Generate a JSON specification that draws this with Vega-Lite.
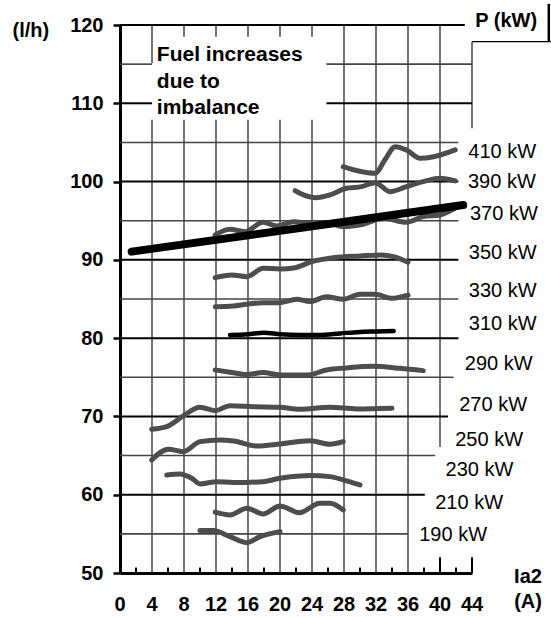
{
  "$schema": "https://vega.github.io/schema/vega-lite/v6.json",
  "width": 352,
  "height": 548,
  "autosize": {"type": "none"},
  "padding": {"left": 120, "top": 25, "right": 79, "bottom": 44},
  "config": {
    "font": "Liberation Sans",
    "view": {"stroke": null},
    "axis": {"grid": false, "labelOverlap": false, "labelFlush": false, "labelBound": false}
  },
  "datasets": {
    "hgrid": [
      {"y": 120, "x": 0, "x2": 43.1, "kind": "major"},
      {"y": 115, "x": 0, "x2": 4, "kind": "minor"},
      {"y": 115, "x": 25.8, "x2": 44, "kind": "minor"},
      {"y": 110, "x": 0, "x2": 4, "kind": "major"},
      {"y": 110, "x": 25.8, "x2": 44, "kind": "major"},
      {"y": 105, "x": 0, "x2": 42.3, "kind": "minor"},
      {"y": 100, "x": 0, "x2": 42.3, "kind": "major"},
      {"y": 95, "x": 0, "x2": 42.3, "kind": "minor"},
      {"y": 90, "x": 0, "x2": 42.3, "kind": "major"},
      {"y": 85, "x": 0, "x2": 42.3, "kind": "minor"},
      {"y": 80, "x": 0, "x2": 42.3, "kind": "major"},
      {"y": 75, "x": 0, "x2": 41.7, "kind": "minor"},
      {"y": 70, "x": 0, "x2": 41, "kind": "major"},
      {"y": 65, "x": 0, "x2": 39.4, "kind": "minor"},
      {"y": 60, "x": 0, "x2": 38.1, "kind": "major"},
      {"y": 55, "x": 0, "x2": 36, "kind": "minor"},
      {"y": 117.87, "x": 44, "x2": 53.9, "kind": "box"}
    ],
    "vgrid": [
      {"x": 4, "y": 50, "y2": 107.9, "kind": "grid"}, {"x": 4, "y": 115.1, "y2": 120, "kind": "grid"},
      {"x": 8, "y": 50, "y2": 107.9, "kind": "grid"}, {"x": 8, "y": 118.5, "y2": 120, "kind": "grid"},
      {"x": 12, "y": 50, "y2": 107.9, "kind": "grid"}, {"x": 12, "y": 118.5, "y2": 120, "kind": "grid"},
      {"x": 16, "y": 50, "y2": 107.9, "kind": "grid"}, {"x": 16, "y": 118.5, "y2": 120, "kind": "grid"},
      {"x": 20, "y": 50, "y2": 107.9, "kind": "grid"}, {"x": 20, "y": 118.5, "y2": 120, "kind": "grid"},
      {"x": 24, "y": 50, "y2": 107.9, "kind": "grid"}, {"x": 24, "y": 118.5, "y2": 120, "kind": "grid"},
      {"x": 28, "y": 50, "y2": 120, "kind": "grid"},
      {"x": 32, "y": 50, "y2": 120, "kind": "grid"},
      {"x": 36, "y": 50, "y2": 120, "kind": "grid"},
      {"x": 40, "y": 66.1, "y2": 120, "kind": "grid"}, {"x": 40, "y": 50, "y2": 52, "kind": "tick"},
      {"x": 44, "y": 106.8, "y2": 117.87, "kind": "grid"}, {"x": 44, "y": 50, "y2": 52, "kind": "tick"},
      {"x": 2, "y": 50, "y2": 50.7, "kind": "tick"}, {"x": 6, "y": 50, "y2": 50.7, "kind": "tick"},
      {"x": 10, "y": 50, "y2": 50.7, "kind": "tick"}, {"x": 14, "y": 50, "y2": 50.7, "kind": "tick"},
      {"x": 18, "y": 50, "y2": 50.7, "kind": "tick"}, {"x": 22, "y": 50, "y2": 50.7, "kind": "tick"},
      {"x": 26, "y": 50, "y2": 50.7, "kind": "tick"}, {"x": 30, "y": 50, "y2": 50.7, "kind": "tick"},
      {"x": 34, "y": 50, "y2": 50.7, "kind": "tick"}, {"x": 38, "y": 50, "y2": 50.7, "kind": "tick"},
      {"x": 42, "y": 50, "y2": 50.7, "kind": "tick"}
    ],
    "xticks": [
      {"v": 0}, {"v": 4}, {"v": 8}, {"v": 12}, {"v": 16}, {"v": 20}, {"v": 24}, {"v": 28}, {"v": 32}, {"v": 36}, {"v": 40}, {"v": 44}
    ],
    "boxside": [
      {"x": 53.6, "y": 117.87, "y2": 122.7}
    ],
    "curves": [
      {"P": "410 kW", "Ia2": 27.9, "fuel": 101.9}, {"P": "410 kW", "Ia2": 29.8, "fuel": 101.35}, {"P": "410 kW", "Ia2": 31.9, "fuel": 101.06}, {"P": "410 kW", "Ia2": 33.1, "fuel": 102.76}, {"P": "410 kW", "Ia2": 34.4, "fuel": 104.46}, {"P": "410 kW", "Ia2": 35.8, "fuel": 104.04}, {"P": "410 kW", "Ia2": 37.5, "fuel": 102.98}, {"P": "410 kW", "Ia2": 39.2, "fuel": 103.18}, {"P": "410 kW", "Ia2": 41.9, "fuel": 104.04},
      {"P": "390 kW", "Ia2": 21.9, "fuel": 98.84}, {"P": "390 kW", "Ia2": 22.5, "fuel": 98.5}, {"P": "390 kW", "Ia2": 24.4, "fuel": 97.94}, {"P": "390 kW", "Ia2": 26.25, "fuel": 98.29}, {"P": "390 kW", "Ia2": 28.3, "fuel": 99.14}, {"P": "390 kW", "Ia2": 30.2, "fuel": 99.35}, {"P": "390 kW", "Ia2": 31.9, "fuel": 99.86}, {"P": "390 kW", "Ia2": 33.75, "fuel": 98.71}, {"P": "390 kW", "Ia2": 35.8, "fuel": 99.35}, {"P": "390 kW", "Ia2": 37.9, "fuel": 99.99}, {"P": "390 kW", "Ia2": 40, "fuel": 100.42}, {"P": "390 kW", "Ia2": 41.9, "fuel": 100.08},
      {"P": "370 kW", "Ia2": 11.9, "fuel": 93.18}, {"P": "370 kW", "Ia2": 13.75, "fuel": 93.91}, {"P": "370 kW", "Ia2": 15.6, "fuel": 93.6}, {"P": "370 kW", "Ia2": 17.9, "fuel": 94.8}, {"P": "370 kW", "Ia2": 19.6, "fuel": 94.33}, {"P": "370 kW", "Ia2": 21.7, "fuel": 94.88}, {"P": "370 kW", "Ia2": 24, "fuel": 94.6}, {"P": "370 kW", "Ia2": 26, "fuel": 94.7}, {"P": "370 kW", "Ia2": 27.9, "fuel": 94.24}, {"P": "370 kW", "Ia2": 30.4, "fuel": 94.55}, {"P": "370 kW", "Ia2": 32.9, "fuel": 95.31}, {"P": "370 kW", "Ia2": 35.8, "fuel": 94.8}, {"P": "370 kW", "Ia2": 37.9, "fuel": 95.52}, {"P": "370 kW", "Ia2": 40, "fuel": 95.73}, {"P": "370 kW", "Ia2": 41.9, "fuel": 96.6},
      {"P": "350 kW", "Ia2": 11.9, "fuel": 87.73}, {"P": "350 kW", "Ia2": 13.96, "fuel": 88.07}, {"P": "350 kW", "Ia2": 15.84, "fuel": 87.85}, {"P": "350 kW", "Ia2": 17.9, "fuel": 88.93}, {"P": "350 kW", "Ia2": 20, "fuel": 88.84}, {"P": "350 kW", "Ia2": 21.9, "fuel": 89.0}, {"P": "350 kW", "Ia2": 23.96, "fuel": 89.77}, {"P": "350 kW", "Ia2": 26.66, "fuel": 90.28}, {"P": "350 kW", "Ia2": 30, "fuel": 90.5}, {"P": "350 kW", "Ia2": 32.7, "fuel": 90.63}, {"P": "350 kW", "Ia2": 34.2, "fuel": 90.41}, {"P": "350 kW", "Ia2": 36, "fuel": 89.7},
      {"P": "330 kW", "Ia2": 11.9, "fuel": 84.02}, {"P": "330 kW", "Ia2": 14.2, "fuel": 84.11}, {"P": "330 kW", "Ia2": 15.8, "fuel": 84.33}, {"P": "330 kW", "Ia2": 17.9, "fuel": 84.53}, {"P": "330 kW", "Ia2": 20, "fuel": 84.53}, {"P": "330 kW", "Ia2": 22.1, "fuel": 84.97}, {"P": "330 kW", "Ia2": 23.75, "fuel": 84.67}, {"P": "330 kW", "Ia2": 25.8, "fuel": 85.3}, {"P": "330 kW", "Ia2": 27.9, "fuel": 84.97}, {"P": "330 kW", "Ia2": 30, "fuel": 85.6}, {"P": "330 kW", "Ia2": 31.9, "fuel": 85.6}, {"P": "330 kW", "Ia2": 34, "fuel": 85.09}, {"P": "330 kW", "Ia2": 36, "fuel": 85.5},
      {"P": "310 kW", "Ia2": 13.75, "fuel": 80.4}, {"P": "310 kW", "Ia2": 16, "fuel": 80.5}, {"P": "310 kW", "Ia2": 18, "fuel": 80.7}, {"P": "310 kW", "Ia2": 20, "fuel": 80.5}, {"P": "310 kW", "Ia2": 22.5, "fuel": 80.4}, {"P": "310 kW", "Ia2": 25, "fuel": 80.4}, {"P": "310 kW", "Ia2": 27.5, "fuel": 80.6}, {"P": "310 kW", "Ia2": 30, "fuel": 80.8}, {"P": "310 kW", "Ia2": 32, "fuel": 80.85}, {"P": "310 kW", "Ia2": 34.2, "fuel": 80.9},
      {"P": "290 kW", "Ia2": 11.9, "fuel": 75.94}, {"P": "290 kW", "Ia2": 13.96, "fuel": 75.62}, {"P": "290 kW", "Ia2": 15.84, "fuel": 75.36}, {"P": "290 kW", "Ia2": 17.9, "fuel": 75.6}, {"P": "290 kW", "Ia2": 20, "fuel": 75.3}, {"P": "290 kW", "Ia2": 23.5, "fuel": 75.3}, {"P": "290 kW", "Ia2": 25.8, "fuel": 75.94}, {"P": "290 kW", "Ia2": 28.3, "fuel": 76.2}, {"P": "290 kW", "Ia2": 31.7, "fuel": 76.4}, {"P": "290 kW", "Ia2": 35, "fuel": 76.15}, {"P": "290 kW", "Ia2": 37.9, "fuel": 75.85},
      {"P": "270 kW", "Ia2": 3.96, "fuel": 68.37}, {"P": "270 kW", "Ia2": 5.84, "fuel": 68.7}, {"P": "270 kW", "Ia2": 7.9, "fuel": 70.06}, {"P": "270 kW", "Ia2": 10, "fuel": 71.17}, {"P": "270 kW", "Ia2": 11.9, "fuel": 70.74}, {"P": "270 kW", "Ia2": 13.75, "fuel": 71.38}, {"P": "270 kW", "Ia2": 16.7, "fuel": 71.25}, {"P": "270 kW", "Ia2": 20, "fuel": 71.17}, {"P": "270 kW", "Ia2": 22.5, "fuel": 70.92}, {"P": "270 kW", "Ia2": 26.25, "fuel": 71.17}, {"P": "270 kW", "Ia2": 29.6, "fuel": 70.96}, {"P": "270 kW", "Ia2": 34, "fuel": 71.05},
      {"P": "250 kW", "Ia2": 3.96, "fuel": 64.44}, {"P": "250 kW", "Ia2": 6.04, "fuel": 65.81}, {"P": "250 kW", "Ia2": 7.9, "fuel": 65.5}, {"P": "250 kW", "Ia2": 10, "fuel": 66.78}, {"P": "250 kW", "Ia2": 12.5, "fuel": 67.0}, {"P": "250 kW", "Ia2": 14.2, "fuel": 66.87}, {"P": "250 kW", "Ia2": 17.1, "fuel": 66.23}, {"P": "250 kW", "Ia2": 20, "fuel": 66.49}, {"P": "250 kW", "Ia2": 23.75, "fuel": 66.9}, {"P": "250 kW", "Ia2": 26.25, "fuel": 66.45}, {"P": "250 kW", "Ia2": 27.9, "fuel": 66.78},
      {"P": "230 kW", "Ia2": 5.84, "fuel": 62.53}, {"P": "230 kW", "Ia2": 7.5, "fuel": 62.66}, {"P": "230 kW", "Ia2": 8.96, "fuel": 62.11}, {"P": "230 kW", "Ia2": 10, "fuel": 61.38}, {"P": "230 kW", "Ia2": 12.1, "fuel": 61.67}, {"P": "230 kW", "Ia2": 14.2, "fuel": 61.55}, {"P": "230 kW", "Ia2": 17.9, "fuel": 61.67}, {"P": "230 kW", "Ia2": 20, "fuel": 62.11}, {"P": "230 kW", "Ia2": 22.5, "fuel": 62.4}, {"P": "230 kW", "Ia2": 23.75, "fuel": 62.44}, {"P": "230 kW", "Ia2": 26.25, "fuel": 62.31}, {"P": "230 kW", "Ia2": 27.9, "fuel": 61.9}, {"P": "230 kW", "Ia2": 30, "fuel": 61.25},
      {"P": "210 kW", "Ia2": 11.9, "fuel": 57.77}, {"P": "210 kW", "Ia2": 13.75, "fuel": 57.42}, {"P": "210 kW", "Ia2": 15.84, "fuel": 58.27}, {"P": "210 kW", "Ia2": 17.9, "fuel": 57.55}, {"P": "210 kW", "Ia2": 20, "fuel": 58.57}, {"P": "210 kW", "Ia2": 22.4, "fuel": 57.7}, {"P": "210 kW", "Ia2": 25, "fuel": 58.92}, {"P": "210 kW", "Ia2": 26.25, "fuel": 58.92}, {"P": "210 kW", "Ia2": 27.9, "fuel": 58.06},
      {"P": "190 kW", "Ia2": 10, "fuel": 55.42}, {"P": "190 kW", "Ia2": 11.66, "fuel": 55.42}, {"P": "190 kW", "Ia2": 13.75, "fuel": 54.65}, {"P": "190 kW", "Ia2": 15.84, "fuel": 53.88}, {"P": "190 kW", "Ia2": 17.5, "fuel": 54.65}, {"P": "190 kW", "Ia2": 20, "fuel": 55.29}
    ],
    "trend": [
      {"P": "370 kW", "Ia2": 1.46, "fuel": 91.05},
      {"P": "370 kW", "Ia2": 42.9, "fuel": 97.0}
    ],
    "labels": [
      {"text": "410 kW", "x": 43.54, "y": 103.82},
      {"text": "390 kW", "x": 43.5, "y": 99.99},
      {"text": "370 kW", "x": 43.75, "y": 95.82},
      {"text": "350 kW", "x": 43.6, "y": 90.92},
      {"text": "330 kW", "x": 43.6, "y": 86.03},
      {"text": "310 kW", "x": 43.6, "y": 81.8},
      {"text": "290 kW", "x": 43.1, "y": 76.7},
      {"text": "270 kW", "x": 42.4, "y": 71.47},
      {"text": "250 kW", "x": 41.9, "y": 67.0},
      {"text": "230 kW", "x": 40.7, "y": 63.2},
      {"text": "210 kW", "x": 39.4, "y": 58.95},
      {"text": "190 kW", "x": 37.4, "y": 54.87}
    ],
    "notes": [
      {"text": "Fuel increases", "x": 4.6, "y": 116.17},
      {"text": "due to", "x": 4.6, "y": 112.76},
      {"text": "imbalance", "x": 4.6, "y": 109.4}
    ],
    "ptitle": [
      {"text": "P (kW)", "x": 44.4, "y": 120.55}
    ]
  },
  "layer": [
    {
      "data": {"name": "vgrid"},
      "mark": {"type": "rule"},
      "encoding": {
        "x": {"field": "x", "type": "quantitative", "scale": {"domain": [0, 44], "nice": false, "zero": false},
          "axis": {
            "values": [0, 4, 8, 12, 16, 20, 24, 28, 32, 36, 40, 44],
            "labels": false,
            "ticks": false,
            "domainColor": "#000", "domainWidth": 3,
            "title": ["Ia2", "(A)"], "titleFontSize": 20, "titleFontWeight": "bold", "titleColor": "#000",
            "titleX": 407.5, "titleY": 9, "titleAlign": "center", "titleBaseline": "alphabetic", "titleLineHeight": 25
          }},
        "y": {"field": "y", "type": "quantitative", "scale": {"domain": [50, 120], "nice": false, "zero": false},
          "axis": {
            "values": [50, 60, 70, 80, 90, 100, 110, 120],
            "labelFontSize": 20, "labelFontWeight": "bold", "labelColor": "#000",
            "labelOverlap": false, "labelFlush": false, "labelBound": false,
            "tickSize": 7, "tickWidth": 2.5, "tickColor": "#000", "labelPadding": 10,
            "domainColor": "#000", "domainWidth": 3,
            "title": "(l/h)", "titleFontSize": 20, "titleFontWeight": "bold", "titleColor": "#000",
            "titleAngle": 0, "titleX": -108, "titleY": 5, "titleAlign": "left", "titleBaseline": "middle"
          }},
        "y2": {"field": "y2"},
        "color": {"field": "kind", "type": "nominal", "scale": {"domain": ["grid", "tick"], "range": ["#2a2a2a", "#000000"]}, "legend": null},
        "strokeWidth": {"field": "kind", "type": "nominal", "scale": {"domain": ["grid", "tick"], "range": [1.3, 2]}, "legend": null}
      }
    },
    {
      "data": {"name": "hgrid"},
      "mark": {"type": "rule"},
      "encoding": {
        "x": {"field": "x", "type": "quantitative"},
        "x2": {"field": "x2"},
        "y": {"field": "y", "type": "quantitative"},
        "color": {"field": "kind", "type": "nominal", "scale": {"domain": ["major", "minor", "box"], "range": ["#000000", "#444444", "#000000"]}, "legend": null},
        "strokeWidth": {"field": "kind", "type": "nominal", "scale": {"domain": ["major", "minor", "box"], "range": [2, 1.2, 3.5]}, "legend": null}
      }
    },
    {
      "data": {"name": "boxside"},
      "mark": {"type": "rule", "color": "#000", "strokeWidth": 2.5},
      "encoding": {
        "x": {"field": "x", "type": "quantitative"},
        "y": {"field": "y", "type": "quantitative"},
        "y2": {"field": "y2"}
      }
    },
    {
      "data": {"name": "xticks"},
      "mark": {"type": "text", "align": "center", "baseline": "middle", "fontSize": 20, "fontWeight": "bold", "color": "#000", "dy": 32},
      "encoding": {
        "x": {"field": "v", "type": "quantitative"},
        "y": {"datum": 50},
        "text": {"field": "v", "type": "quantitative"}
      }
    },
    {
      "data": {"name": "curves"},
      "transform": [{"filter": "datum.P != '310 kW'"}],
      "mark": {"type": "line", "color": "#4d4d4d", "strokeWidth": 5, "strokeCap": "round", "strokeJoin": "round", "interpolate": "monotone"},
      "encoding": {
        "x": {"field": "Ia2", "type": "quantitative"},
        "y": {"field": "fuel", "type": "quantitative"},
        "detail": {"field": "P"}
      }
    },
    {
      "data": {"name": "curves"},
      "transform": [{"filter": "datum.P == '310 kW'"}],
      "mark": {"type": "line", "color": "#000", "strokeWidth": 4.5, "strokeCap": "round", "strokeJoin": "round", "interpolate": "monotone"},
      "encoding": {
        "x": {"field": "Ia2", "type": "quantitative"},
        "y": {"field": "fuel", "type": "quantitative"},
        "detail": {"field": "P"}
      }
    },
    {
      "data": {"name": "trend"},
      "mark": {"type": "line", "color": "#000", "strokeWidth": 8, "strokeCap": "round"},
      "encoding": {
        "x": {"field": "Ia2", "type": "quantitative"},
        "y": {"field": "fuel", "type": "quantitative"}
      }
    },
    {
      "data": {"name": "labels"},
      "mark": {"type": "text", "align": "left", "baseline": "middle", "fontSize": 20, "color": "#000"},
      "encoding": {
        "x": {"field": "x", "type": "quantitative"},
        "y": {"field": "y", "type": "quantitative"},
        "text": {"field": "text"}
      }
    },
    {
      "data": {"name": "notes"},
      "mark": {"type": "text", "align": "left", "baseline": "middle", "fontSize": 21, "fontWeight": "bold", "color": "#000"},
      "encoding": {
        "x": {"field": "x", "type": "quantitative"},
        "y": {"field": "y", "type": "quantitative"},
        "text": {"field": "text"}
      }
    },
    {
      "data": {"name": "ptitle"},
      "mark": {"type": "text", "align": "left", "baseline": "middle", "fontSize": 20, "fontWeight": "bold", "color": "#000"},
      "encoding": {
        "x": {"field": "x", "type": "quantitative"},
        "y": {"field": "y", "type": "quantitative"},
        "text": {"field": "text"}
      }
    }
  ],
  "resolve": {"scale": {"color": "independent", "strokeWidth": "independent"}}
}
